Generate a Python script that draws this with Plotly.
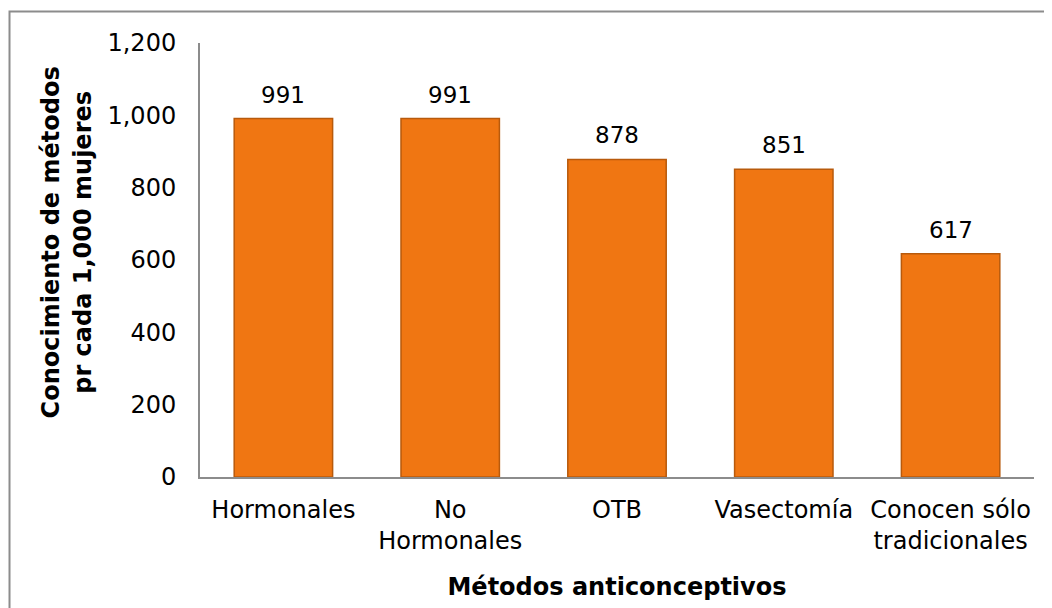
import plotly.graph_objects as go

# Conocimiento de métodos anticonceptivos por cada 1,000 mujeres
categorias = ["Hormonales", "No<br>Hormonales", "OTB", "Vasectomía", "Conocen sólo<br>tradicionales"]
valores = [991, 991, 878, 851, 617]
y_ticks = [0, 200, 400, 600, 800, 1000, 1200]
y_tick_labels = ["0", "200", "400", "600", "800", "1,000", "1,200"]

FONT = "DejaVu Sans"
ORANGE = "#F07612"
EDGE = "#B85A0C"

fig = go.Figure()

fig.add_trace(go.Bar(
    x=categorias,
    y=valores,
    marker=dict(color=ORANGE, line=dict(color=EDGE, width=1.5)),
    hoverinfo="x+y",
    showlegend=False,
))

# data labels above the bars
for cat, val in zip(categorias, valores):
    fig.add_annotation(
        x=cat, y=val, text=f"{val:,}",
        showarrow=False, yanchor="bottom", yshift=9,
        font=dict(family=FONT, size=23, color="black"),
    )

# y axis title (two lines, rotated)
fig.add_annotation(
    xref="paper", yref="paper", x=-0.159, y=0.5415,
    xanchor="center", yanchor="middle", textangle=-90, showarrow=False,
    text="<b>Conocimiento de métodos<br>pr cada 1,000 mujeres</b>",
    font=dict(family=FONT, size=24, color="black"),
)

# outer chart border
fig.add_shape(
    type="rect", xref="paper", yref="paper",
    x0=-0.2284, x1=1.03, y0=-0.32, y1=1.0726,
    line=dict(color="#8C8C8C", width=2), layer="below",
)

# page body has an 8px margin, so the figure is shrunk by that much
fig.update_layout(
    width=1044,
    height=600,
    margin=dict(l=192, r=18, t=35, b=131),
    paper_bgcolor="white",
    plot_bgcolor="white",
    bargap=0.41,
    font=dict(family=FONT, size=23, color="black"),
    xaxis=dict(
        showline=True, linecolor="#8C8C8C", linewidth=2,
        showgrid=False, ticks="", tickfont=dict(size=24),
        ticklabelstandoff=10,
        title=dict(text="<b>Métodos anticonceptivos</b>", font=dict(size=24), standoff=24),
    ),
    yaxis=dict(
        range=[0, 1200],
        tickvals=y_ticks, ticktext=y_tick_labels,
        showline=True, linecolor="#8C8C8C", linewidth=2,
        showgrid=False, zeroline=False, ticks="", ticklabelstandoff=17,
        tickfont=dict(size=24),
    ),
)

fig.write_html("out.html")
